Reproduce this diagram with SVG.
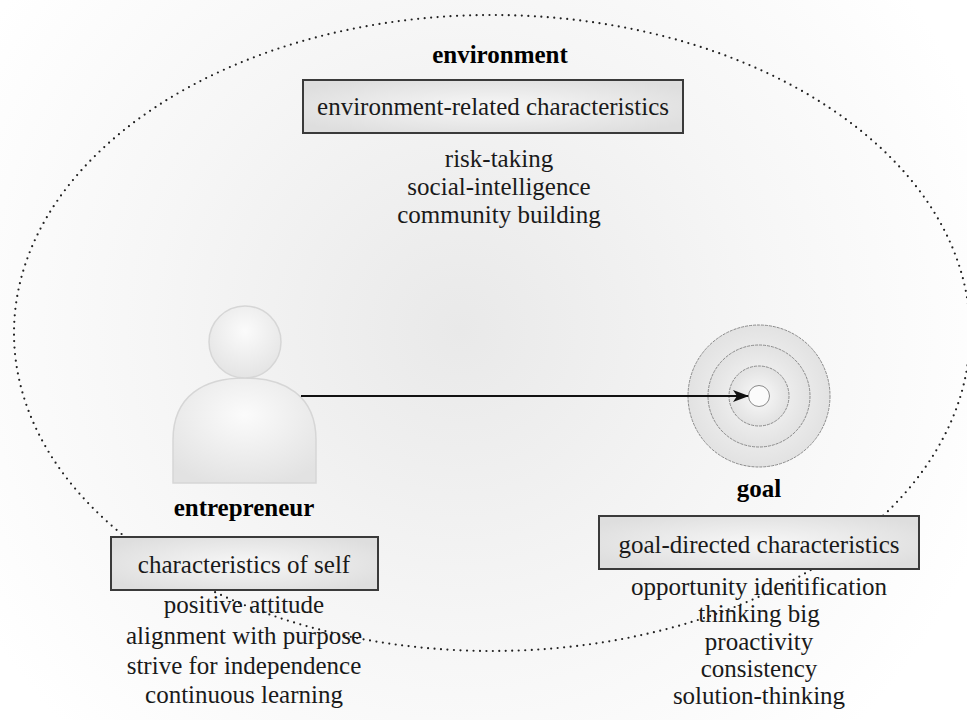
<svg xmlns="http://www.w3.org/2000/svg" width="967" height="720" viewBox="0 0 967 720">
<defs>
<radialGradient id="bg" cx="460" cy="330" r="560" gradientUnits="userSpaceOnUse">
<stop offset="0" stop-color="#e9e9e9"/>
<stop offset="0.55" stop-color="#f6f6f6"/>
<stop offset="1" stop-color="#ffffff"/>
</radialGradient>
<radialGradient id="boxg" cx="0.5" cy="0.5" r="0.6">
<stop offset="0" stop-color="#f7f7f7"/>
<stop offset="1" stop-color="#dedede"/>
</radialGradient>
<radialGradient id="persong" cx="0.5" cy="0.35" r="0.7">
<stop offset="0" stop-color="#fbfbfb"/>
<stop offset="1" stop-color="#e2e2e2"/>
</radialGradient>
<radialGradient id="targetg" cx="0.5" cy="0.5" r="0.5">
<stop offset="0" stop-color="#fafafa"/>
<stop offset="1" stop-color="#e2e2e2"/>
</radialGradient>
<marker id="arr" viewBox="0 0 16 12" refX="15" refY="6" markerWidth="16" markerHeight="12" markerUnits="userSpaceOnUse" orient="auto">
<path d="M0,0 L16,6 L0,12 L4,6 Z" fill="#111"/>
</marker>
<style>
.box{fill:url(#boxg);stroke:#3a3a3a;stroke-width:2}
.ring{stroke:#8a8a8a;stroke-width:1;stroke-dasharray:3 1}
</style>
</defs>
<rect x="0" y="0" width="967" height="720" fill="url(#bg)"/>
<g id="environment-boundary">
<ellipse cx="492" cy="333" rx="478" ry="318" fill="none" stroke="#222" stroke-width="2.2" stroke-linecap="round" stroke-dasharray="0 6.5"/>
</g>
<g id="environment" font-family="Liberation Serif" font-size="25" text-anchor="middle" fill="#1a1a1a">
<text x="500" y="63" font-weight="bold" fill="#000">environment</text>
<rect class="box" x="303" y="80" width="380" height="53"/>
<text x="493" y="115">environment-related characteristics</text>
<text x="499" y="167">risk-taking</text>
<text x="499" y="195">social-intelligence</text>
<text x="499" y="223">community building</text>
</g>
<g id="entrepreneur" font-family="Liberation Serif" font-size="25" text-anchor="middle" fill="#1a1a1a">
<path d="M173,483 L173,440 C173,395 205,378 244.5,378 C284,378 316,395 316,440 L316,483 Z" fill="url(#persong)" stroke="#d6d6d6" stroke-width="1.5"/>
<circle cx="245" cy="342" r="36" fill="url(#persong)" stroke="#d6d6d6" stroke-width="1.5"/>
<text x="244" y="516" font-weight="bold" fill="#000">entrepreneur</text>
<rect class="box" x="111" y="537" width="267" height="53"/>
<text x="244" y="573">characteristics of self</text>
<text x="244" y="613">positive attitude</text>
<text x="244" y="644">alignment with purpose</text>
<text x="244" y="674">strive for independence</text>
<text x="244" y="703">continuous learning</text>
</g>
<g id="goal" font-family="Liberation Serif" font-size="25" text-anchor="middle" fill="#1a1a1a">
<circle class="ring" cx="759" cy="396" r="71" fill="url(#targetg)"/>
<circle class="ring" cx="759" cy="396" r="51" fill="url(#targetg)"/>
<circle class="ring" cx="759" cy="396" r="30" fill="url(#targetg)"/>
<circle cx="759" cy="396" r="10.5" fill="#fbfbfb" stroke="#8a8a8a" stroke-width="1"/>
<text x="759" y="497" font-weight="bold" fill="#000">goal</text>
<rect class="box" x="599" y="516" width="320" height="53"/>
<text x="759" y="553">goal-directed characteristics</text>
<text x="759" y="595">opportunity identification</text>
<text x="759" y="622">thinking big</text>
<text x="759" y="650">proactivity</text>
<text x="759" y="677">consistency</text>
<text x="759" y="704">solution-thinking</text>
</g>
<g id="connectors">
<line x1="301" y1="396" x2="748" y2="396" stroke="#111" stroke-width="2" marker-end="url(#arr)"/>
</g>
</svg>
